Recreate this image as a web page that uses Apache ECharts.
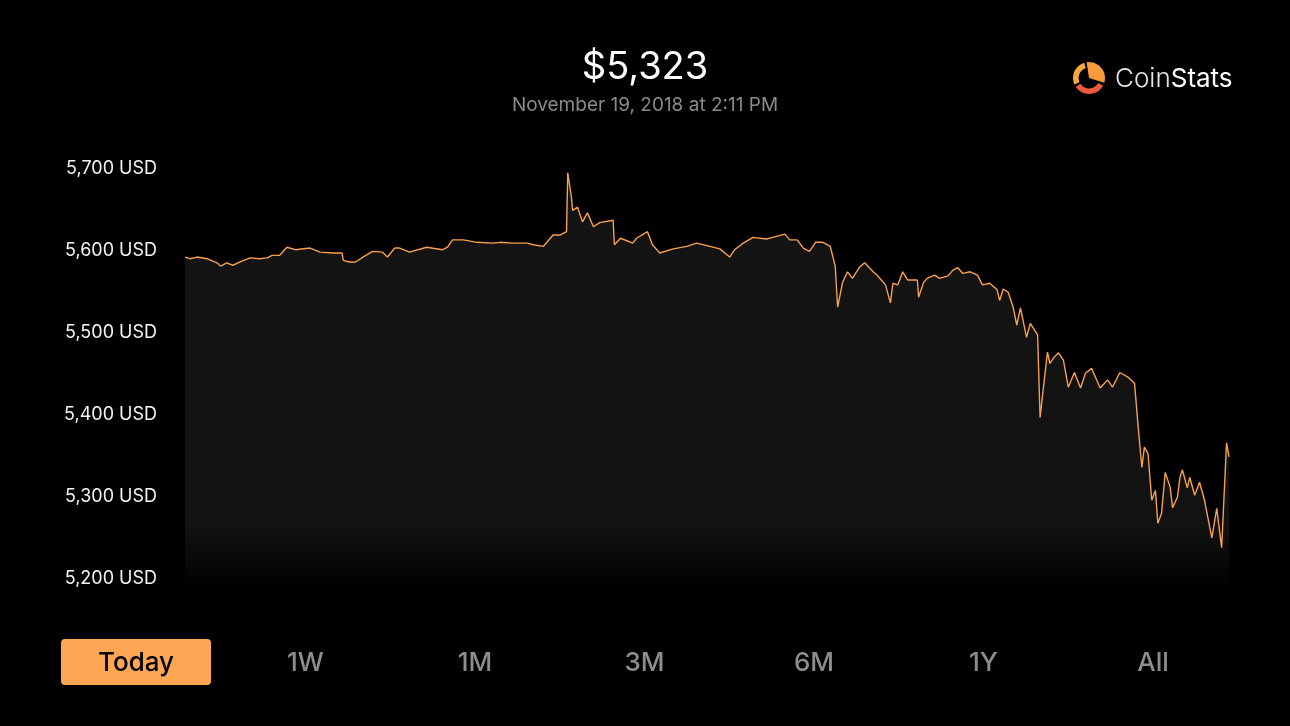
<!DOCTYPE html>
<html>
<head>
<meta charset="utf-8">
<title>CoinStats - BTC today</title>
<script src="https://cdn.jsdelivr.net/npm/echarts@6/dist/echarts.min.js"></script>
<style>
  html, body { margin: 0; padding: 0; background: #000; }
  #chart { width: 1290px; height: 726px; }
</style>
</head>
<body>
<div id="chart"></div>
<script>
// BTC price today, minutes since midnight -> USD
const TIMES = [
  0, 4, 10, 18, 26, 29, 34, 39, 45, 53, 61, 67, 71, 77, 83, 90, 102, 110, 121, 128,
  129, 134, 139, 145, 153, 161, 165, 171, 175, 183, 197, 210, 214, 218, 227, 238, 251, 257, 267, 279,
  284, 292, 295, 300, 306, 311, 312, 315, 316, 320, 324, 328, 333, 338, 349, 350, 355, 365, 368, 377,
  381, 387, 398, 409, 417, 428, 436, 444, 448, 455, 463, 474, 479, 489, 493, 499, 504, 509, 514, 520,
  526, 530, 532, 536, 540, 544, 550, 554, 561, 564, 571, 575, 577, 581, 585, 589, 597, 598, 602, 605,
  611, 615, 622, 626, 630, 634, 640, 646, 650, 656, 662, 664, 667, 671, 675, 678, 681, 686, 689, 695,
  697, 699, 703, 705, 708, 712, 716, 720, 725, 730, 734, 739, 746, 752, 756, 762, 769, 774, 777, 780,
  782, 785, 788, 791, 793, 796, 799, 803, 805, 809, 811, 813, 817, 819, 823, 827, 831, 837, 841, 845,
  849, 851
];
const PRICES = [
  5590, 5588, 5590, 5588, 5583, 5579, 5583, 5580, 5584, 5589, 5588, 5589, 5592, 5592, 5602, 5599, 5601, 5596, 5595, 5595,
  5586, 5584, 5584, 5590, 5597, 5596, 5590, 5601, 5601, 5596, 5602, 5599, 5602, 5611, 5611, 5608, 5607, 5608, 5607, 5607,
  5605, 5603, 5608, 5617, 5617, 5621, 5693, 5663, 5647, 5651, 5633, 5644, 5627, 5632, 5635, 5605, 5613, 5607, 5613, 5621,
  5605, 5595, 5600, 5603, 5607, 5603, 5600, 5590, 5599, 5607, 5614, 5612, 5614, 5618, 5611, 5611, 5601, 5597, 5608, 5608,
  5603, 5579, 5529, 5559, 5572, 5564, 5578, 5583, 5572, 5568, 5556, 5534, 5558, 5556, 5572, 5562, 5562, 5541, 5559, 5564,
  5568, 5564, 5567, 5574, 5577, 5570, 5572, 5568, 5556, 5558, 5550, 5537, 5551, 5547, 5529, 5507, 5528, 5492, 5509, 5495,
  5394, 5421, 5474, 5460, 5467, 5473, 5464, 5431, 5449, 5430, 5448, 5454, 5430, 5440, 5431, 5449, 5443, 5436, 5382, 5333,
  5358, 5350, 5293, 5305, 5265, 5277, 5327, 5309, 5284, 5297, 5321, 5330, 5308, 5321, 5299, 5315, 5293, 5247, 5283, 5235,
  5363, 5346
];
const Y_TICKS = [5200, 5300, 5400, 5500, 5600, 5700];
const RANGES = ['Today', '1W', '1M', '3M', '6M', '1Y', 'All'];

const FONT = 'Inter, "Noto Sans", sans-serif';
const ORANGE = '#f7a04e';

const chart = echarts.init(document.getElementById('chart'));

// range buttons along the bottom
const buttons = [];
RANGES.forEach((r, i) => {
  const cx = 136 + i * 169.5;
  if (i === 0) {
    buttons.push({
      type: 'rect',
      shape: { x: 61, y: 639, width: 150, height: 46, r: 4 },
      style: { fill: '#ffa654' }
    });
  }
  buttons.push({
    type: 'text',
    x: cx, y: 663,
    style: {
      text: r,
      font: '500 26px ' + FONT,
      fill: i === 0 ? '#000' : '#8d8d8d',
      align: 'center',
      verticalAlign: 'middle'
    }
  });
});

chart.setOption({
  backgroundColor: '#000',
  animation: false,
  title: {
    text: '$5,323',
    subtext: 'November 19, 2018 at 2:11 PM',
    left: 'center',
    top: 44,
    itemGap: 9,
    textStyle: { color: '#fff', fontSize: 38, fontWeight: 400, fontFamily: FONT },
    subtextStyle: { color: '#8a8a8a', fontSize: 19, fontFamily: FONT }
  },
  grid: { left: 185, right: 61, top: 167, bottom: 139, containLabel: false, outerBoundsMode: 'none' },
  xAxis: {
    type: 'value',
    min: 0,
    max: 851,
    show: false
  },
  yAxis: {
    type: 'value',
    min: 5187,
    max: 5700,
    axisLine: { show: false },
    axisTick: { show: false },
    splitLine: { show: false },
    axisLabel: {
      customValues: Y_TICKS,
      formatter: v => '{l|' + v.toLocaleString('en-US') + ' USD}',
      margin: 28,
      rich: {
        l: { color: '#f2f2f2', fontSize: 18, fontFamily: FONT, padding: [4, 0, 0, 0] }
      }
    }
  },
  series: [{
    type: 'line',
    data: TIMES.map((t, i) => [t, PRICES[i]]),
    showSymbol: false,
    lineStyle: { color: ORANGE, width: 1.4 },
    areaStyle: {
      color: new echarts.graphic.LinearGradient(0, 167, 0, 587, [
        { offset: 0, color: '#141414' },
        { offset: 0.86, color: '#121212' },
        { offset: 1, color: '#000' }
      ], true),
      opacity: 1
    }
  }],
  graphic: [
    // CoinStats logo
    {
      type: 'group',
      x: 1089, y: 78,
      children: [
        { type: 'sector', shape: { cx: 0, cy: 0, r: 16, r0: 0, startAngle: -1.72, endAngle: 0.3 }, style: { fill: '#f89b3c' } },
        { type: 'sector', shape: { cx: 0, cy: 0, r: 16, r0: 10.5, startAngle: 0.5, endAngle: 2.55 }, style: { fill: '#eb5b3c' } },
        { type: 'sector', shape: { cx: 0, cy: 0, r: 16, r0: 10.5, startAngle: 2.72, endAngle: 4.4 }, style: { fill: '#f6a941' } }
      ]
    },
    {
      type: 'text',
      x: 1115, y: 79,
      style: {
        text: '{a|Coin}{b|Stats}',
        verticalAlign: 'middle',
        rich: {
          a: { fontSize: 26, fontWeight: 300, fill: '#e6e6e6', fontFamily: FONT },
          b: { fontSize: 26, fontWeight: 400, fill: '#ffffff', fontFamily: FONT }
        }
      }
    },
    ...buttons
  ]
});
window.addEventListener('resize', () => chart.resize());
</script>
</body>
</html>
